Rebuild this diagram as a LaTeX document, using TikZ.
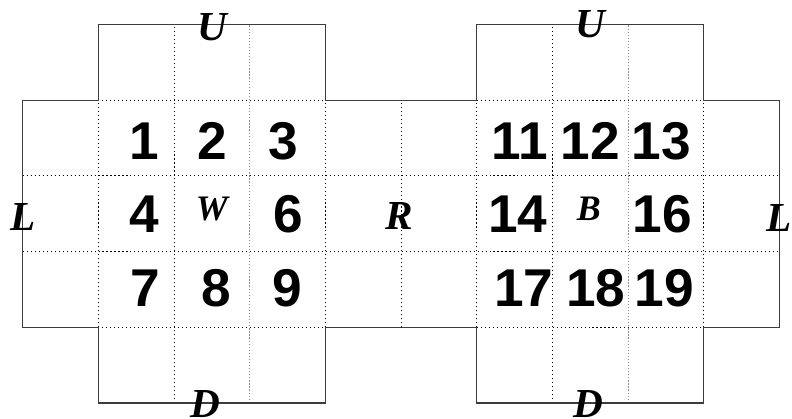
\documentclass[tikz,border=0pt]{standalone}
\usepackage{fontspec}
\setmainfont{Liberation Serif}
\setsansfont{Liberation Sans}
\usepackage{tikz}
\usetikzlibrary{positioning,calc}
\definecolor{EdgeGray}{RGB}{60,60,60}
\definecolor{DotGray}{RGB}{140,140,140}
\tikzset{
  outline/.style={draw=EdgeGray,line width=0.5pt},
  cellline/.style={draw=black,line width=0.4pt,dash pattern=on 0.4pt off 1.1pt},
  greyline/.style={draw=DotGray,line width=0.45pt,dash pattern=on 0.45pt off 0.7pt},
  num/.style={inner sep=0pt,font=\sffamily\bfseries\fontsize{20}{21}\selectfont},
  face/.style={inner sep=0pt,font=\bfseries\itshape\fontsize{15.5}{16}\selectfont},
  centre/.style={inner sep=0pt,font=\bfseries\itshape\fontsize{13.5}{14}\selectfont},
}
\begin{document}
\begin{tikzpicture}[x=1cm,y=1cm]
\useasboundingbox (-0.3,-0.211) rectangle (10.165,5.324);
% dotted cell grid
\foreach \y in {2,3}
  \draw[cellline] (0,\y) -- (10,\y);
\foreach \y in {1,4}{
  \draw[cellline] (1,\y) -- (4,\y);
  \draw[cellline] (6,\y) -- (9,\y);
}
\foreach \x in {2,7}
  \draw[cellline] (\x,0) -- (\x,5);
\foreach \x in {3,8}
  \draw[greyline] (\x,0) -- (\x,5);
\foreach \x in {1,4,5,6,9}
  \draw[cellline] (\x,1) -- (\x,4);
% outline of the two faces and the band
\draw[outline] (1,5) -- (4,5) -- (4,4) -- (6,4) -- (6,5) -- (9,5) -- (9,4)
  -- (10,4) -- (10,1) -- (9,1) -- (9,0) -- (6,0) -- (6,1) -- (4,1) -- (4,0)
  -- (1,0) -- (1,1) -- (0,1) -- (0,4) -- (1,4) -- cycle;
% numbered cells
\foreach \n/\x/\y in {1/1.60/3.46,2/2.51/3.46,3/3.44/3.46,
                     4/1.60/2.50,6/3.51/2.50,
                     7/1.62/1.51,8/2.56/1.51,9/3.49/1.51,
                     11/6.57/3.46,12/7.50/3.46,13/8.44/3.46,
                     14/6.54/2.50,16/8.45/2.50,
                     17/6.62/1.51,18/7.57/1.51,19/8.48/1.51}
  \node[num] (n\n) at (\x,\y) {\n};
% face letters
\node[face] (upW) at (2.50,4.97) {U};
\node[face] (upB) at (7.50,5.00) {U};
\node[face] (downW) at (2.42,-0.01) {D};
\node[face] (downB) at (7.47,-0.01) {D};
\node[face] (leftW) at (0,2.46) {L};
\node[face] (leftB) at (9.99,2.45) {L};
\node[face] (right) at (4.97,2.47) {R};
\node[centre] (white) at (2.50,2.56) {W};
\node[centre] (black) at (7.48,2.56) {B};
\end{tikzpicture}
\end{document}
